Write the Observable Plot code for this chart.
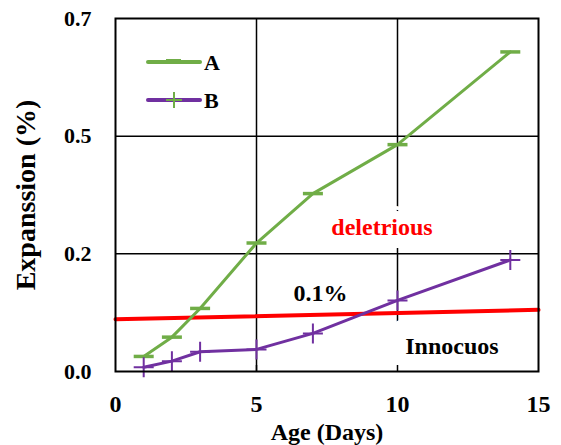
<!DOCTYPE html>
<html><head><meta charset="utf-8">
<script src="https://cdn.jsdelivr.net/npm/d3@7"></script>
<script src="https://cdn.jsdelivr.net/npm/@observablehq/plot@0.6"></script>
<style>
body{margin:0;background:#fff}
#chart{position:relative;width:561px;height:445px}
#legend{position:absolute;left:0;top:0}
#chart svg text{font-family:'Liberation Serif','DejaVu Serif',serif !important}
</style>
</head><body><div id="chart"></div>
<script>
// ---- data ----
const days = [1, 2, 3, 5, 7, 10, 14];
const seriesA = [0.032, 0.073, 0.134, 0.273, 0.378, 0.482, 0.679];
const seriesB = [0.009, 0.022, 0.042, 0.047, 0.081, 0.151, 0.237];
const seriesNames = ["A", "B"];
const seriesColors = ["#70AD47", "#7030A0"];
const limitDays = [0, 15];
const limitValues = [0.111, 0.131];
const xTicks = [0, 5, 10, 15];
const yTicks = [0, 0.25, 0.5, 0.75];
const yTickLabels = ["0.0", "0.2", "0.5", "0.7"];
const gridDays = [5, 10];
const gridValues = [0.25, 0.5];
const noteTexts = ["deletrious", "0.1%", "Innocuos"];
const noteDays = [9.45, 7.27, 11.93];
const noteValues = [0.306, 0.167, 0.054];
const noteColors = ["#FF0000", "#000000", "#000000"];
const noteHalo = [26, 20, 40];

// ---- build ----
const font = "'Liberation Serif', 'DejaVu Serif', serif";
const rowsA = days.map((d, i) => ({day: d, v: seriesA[i]}));
const rowsB = days.map((d, i) => ({day: d, v: seriesB[i]}));
const limit = limitDays.map((d, i) => ({day: d, v: limitValues[i]}));
const notes = noteTexts.map((t, i) => ({t, day: noteDays[i], v: noteValues[i], c: noteColors[i], h: noteHalo[i]}));

const dash = {draw(ctx) { ctx.moveTo(-10, 0); ctx.lineTo(10, 0); }};
const plus = {draw(ctx) { ctx.moveTo(-10, 0); ctx.lineTo(10, 0); ctx.moveTo(0, -10); ctx.lineTo(0, 10); }};

const chart = Plot.plot({
  width: 561, height: 445,
  marginLeft: 115, marginRight: 23, marginTop: 18, marginBottom: 74,
  style: {fontFamily: font, fontWeight: "bold", color: "black", background: "white"},
  x: {domain: [0, 15]},
  y: {domain: [0, 0.75]},
  marks: [
    Plot.ruleX(gridDays, {stroke: "black", strokeWidth: 1.5}),
    Plot.ruleY(gridValues, {stroke: "black", strokeWidth: 1.5}),
    ...notes.map(n => Plot.text([n], {x: "day", y: "v", text: "t", fill: n.c, stroke: "white", strokeWidth: n.h,
      fontSize: 24, fontWeight: "bold", fontFamily: font})),
    Plot.axisX({ticks: gridDays, tickSize: 6, dy: -6, tickFormat: () => "", label: null, strokeWidth: 1.5}),
    Plot.line(limit, {x: "day", y: "v", stroke: "#FF0000", strokeWidth: 4}),
    Plot.line(rowsA, {x: "day", y: "v", stroke: seriesColors[0], strokeWidth: 3}),
    Plot.dot(rowsA, {x: "day", y: "v", symbol: dash, fill: "none", stroke: seriesColors[0], strokeWidth: 3.5}),
    Plot.line(rowsB, {x: "day", y: "v", stroke: seriesColors[1], strokeWidth: 3}),
    Plot.dot(rowsB, {x: "day", y: "v", symbol: plus, fill: "none", stroke: seriesColors[1], strokeWidth: 2}),
    Plot.frame({stroke: "black", strokeWidth: 2}),
    Plot.axisX({ticks: xTicks, tickSize: 0, tickPadding: 23, fontSize: 24, tickFormat: d => String(d),
      label: "Age (Days)", labelAnchor: "center", labelArrow: "none", labelOffset: 68}),
    Plot.axisY({ticks: yTicks, tickSize: 0, tickPadding: 24, fontSize: 22,
      tickFormat: d => yTickLabels[yTicks.indexOf(d)],
      label: "Expanssion (%)", labelAnchor: "center", labelArrow: "none", labelOffset: 100})
  ]
});
chart.querySelectorAll("g[aria-label='x-axis label']").forEach(e => e.setAttribute("font-size", 24));
chart.querySelectorAll("g[aria-label='y-axis label']").forEach(e => e.setAttribute("font-size", 28));
document.getElementById("chart").appendChild(chart);

// ---- legend overlay ----
const lg = d3.select("#chart").append("svg").attr("id", "legend")
  .attr("width", 561).attr("height", 445).style("pointer-events", "none");
const items = lg.selectAll("g").data(seriesNames).join("g")
  .attr("transform", (d, i) => `translate(148,${62 + i * 38})`);
items.append("line").attr("x1", 0).attr("x2", 52).attr("y1", 0).attr("y2", 0)
  .attr("stroke", (d, i) => seriesColors[i]).attr("stroke-width", 4).attr("stroke-linecap", "round");
items.filter((d, i) => i === 0).append("line").attr("x1", 18).attr("x2", 33).attr("y1", -1).attr("y2", -1)
  .attr("stroke", seriesColors[0]).attr("stroke-width", 4);
items.filter((d, i) => i === 1).append("path").attr("d", "M18,0H34M26,-8V8")
  .attr("stroke", seriesColors[0]).attr("stroke-width", 2).attr("fill", "none");
items.append("text").attr("x", 56).attr("y", 8).text(d => d)
  .attr("font-family", font).attr("font-weight", "bold").attr("font-size", 22).attr("fill", "black");
</script>
</body></html>
